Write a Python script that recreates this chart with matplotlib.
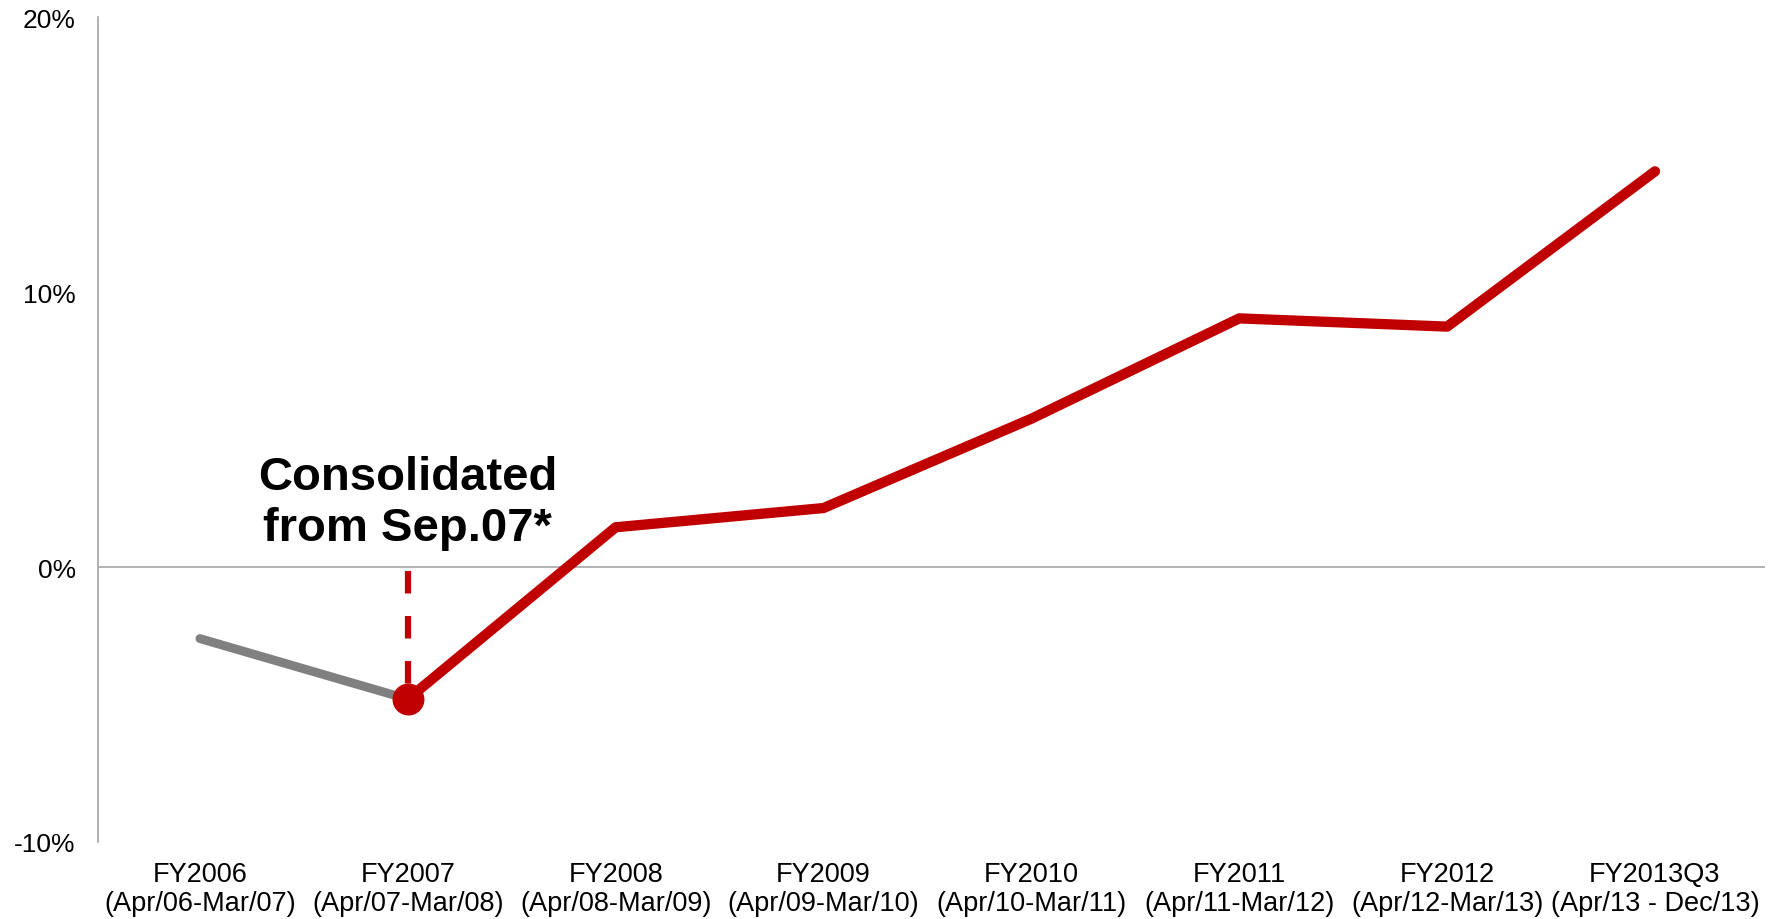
import matplotlib.pyplot as plt
import numpy as np

plt.rcParams['font.family'] = ['Liberation Sans', 'DejaVu Sans']

# 数据
categories = ['FY2006\n(Apr/06-Mar/07)', 'FY2007\n(Apr/07-Mar/08)', 'FY2008\n(Apr/08-Mar/09)',
              'FY2009\n(Apr/09-Mar/10)', 'FY2010\n(Apr/10-Mar/11)', 'FY2011\n(Apr/11-Mar/12)',
              'FY2012\n(Apr/12-Mar/13)', 'FY2013Q3\n(Apr/13 - Dec/13)']
values = [-2.6, -4.8, 1.45, 2.15, 5.4, 9.05, 8.75, 14.4]
y_ticks = [-10, 0, 10, 20]
y_labels = ['-10%', '0%', '10%', '20%']
consolidated_idx = 1  # 从FY2007开始合并

red = '#C00000'
grey = '#808080'
axis_grey = '#A6A6A6'

x = np.arange(len(categories))

fig = plt.figure(figsize=(17.83, 9.2), dpi=100)
ax = fig.add_axes([0.055, 0.0837, 0.935, 0.8963])

# 合并前（灰色）和合并后（红色）
ax.plot(x[:consolidated_idx + 1], values[:consolidated_idx + 1], color=grey,
        linewidth=6.4, solid_capstyle='round', zorder=3)
ax.plot(x[consolidated_idx:], values[consolidated_idx:], color=red,
        linewidth=7.4, solid_joinstyle='round', solid_capstyle='round', zorder=4)
ax.plot(x[consolidated_idx], values[consolidated_idx], 'o', color=red,
        markersize=22, zorder=5)

# 虚线标记
ax.plot([x[consolidated_idx], x[consolidated_idx]], [-0.15, values[consolidated_idx]],
        color=red, linewidth=4.5, dashes=(3.6, 3.6), zorder=2)
ax.text(x[consolidated_idx], 1.0, 'Consolidated\nfrom Sep.07*', ha='center', va='baseline',
        fontsize=34, fontweight='bold', linespacing=1.2, zorder=6)

# 零线
ax.axhline(0, color=axis_grey, linewidth=1.2, zorder=1)

ax.set_xlim(-0.49, 7.53)
ax.set_ylim(-10, 20)
ax.set_yticks(y_ticks)
ax.set_yticklabels(y_labels, fontsize=19)
ax.set_xticks(x)
ax.set_xticklabels(categories, fontsize=19.5, linespacing=1.12)
ax.tick_params(axis='y', length=0, pad=16)
ax.tick_params(axis='x', length=0, pad=14)

for side in ['top', 'right', 'bottom']:
    ax.spines[side].set_visible(False)
ax.spines['left'].set_color(axis_grey)
ax.spines['left'].set_linewidth(1.2)

plt.savefig('out.png', dpi=100)
